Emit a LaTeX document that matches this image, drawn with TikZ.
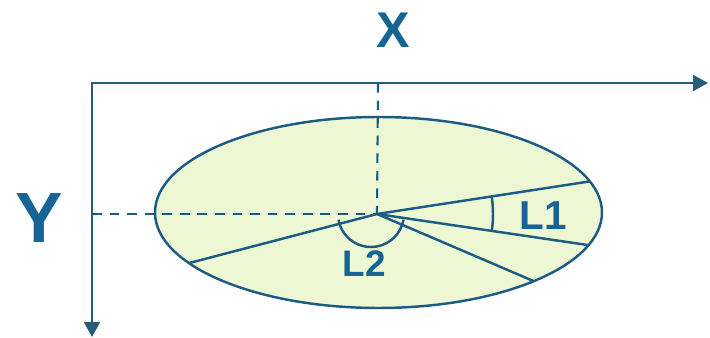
\documentclass[tikz,border=0pt]{standalone}
\usepackage{fontspec}
\setmainfont{Liberation Sans}
\usetikzlibrary{arrows.meta,calc}

\definecolor{axiscol}{RGB}{38,92,122}
\definecolor{linecol}{RGB}{28,92,132}
\definecolor{txtcol}{RGB}{22,100,150}
\definecolor{discfill}{RGB}{238,247,212}

\begin{document}
\begin{tikzpicture}[
    x=0.02cm, y=0.02cm,
    axis/.style={draw=axiscol, line width=1.3pt, {Triangle[length=8.5pt,width=9pt]}-{Triangle[length=8.5pt,width=9pt]}},
    guide/.style={draw=linecol, line width=1.2pt, dash pattern=on 5.5pt off 4.5pt},
    ray/.style={draw=linecol, line width=1.4pt},
    disc/.style={draw=linecol, line width=1.4pt, fill=discfill},
    axlbl/.style={text=txtcol, inner sep=0pt, font=\fontsize{#1}{#1}\selectfont\bfseries},
    anglbl/.style={text=txtcol, inner sep=0pt, font=\fontsize{#1}{#1}\selectfont\bfseries}
]
\useasboundingbox (0,0) rectangle (710,338);

% --- axes ---
\coordinate (orig) at (92,255);
\coordinate (xend) at (708,255);
\coordinate (yend) at (92,1);
\draw[axis] (yend) -- (orig) -- (xend);
\node[axlbl=28.6] (xlab) at (393,308) {X};
\node[axlbl=40.5] (ylab) at (39,120) {Y};

% --- disc with rays ---
\coordinate (C) at (378.5,125.5);
\coordinate (O) at (377,124);
\coordinate (Oc) at (371,124);
\draw[disc] (C) ellipse [x radius=223.5, y radius=95.5];

\coordinate (xfoot) at (378,255);
\coordinate (yfoot) at (92,124);
\draw[guide] (xfoot) -- (O);
\draw[guide] (yfoot) -- (O);

\coordinate (e1) at ([shift={(C)}]19:223.5 and 95.5);
\coordinate (e2) at ([shift={(C)}]-20:223.5 and 95.5);
\coordinate (e3) at ([shift={(C)}]-46:223.5 and 95.5);
\coordinate (e4) at ([shift={(C)}]212:223.5 and 95.5);
\foreach \e in {e1,e2,e3,e4}
    \draw[ray] (O) -- (\e);

% --- angles ---
\draw[ray] ([shift={(O)}]-8.4:116) arc[start angle=-8.4, end angle=8.7, radius=116];
\draw[ray] ([shift={(Oc)}]190:33) arc[start angle=190, end angle=350, radius=33];
\node[anglbl=23] (l1) at (543,122.5) {L1};
\node[anglbl=21] (l2) at (364.5,74) {L2};

\end{tikzpicture}
\end{document}
